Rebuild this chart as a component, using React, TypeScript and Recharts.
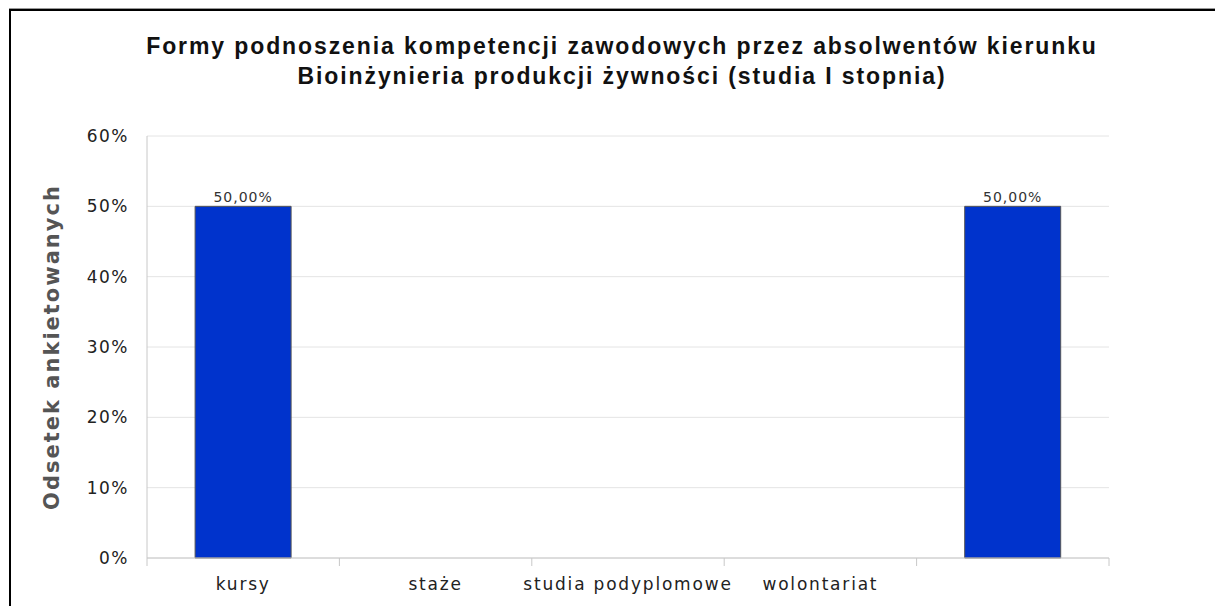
import { BarChart, Bar, XAxis, YAxis, CartesianGrid, LabelList, Label } from 'recharts';

const categories = ['kursy', 'staże', 'studia podyplomowe', 'wolontariat', ''];
const shares = [0.5, 0, 0, 0, 0.5];
const yTicks = [0, 0.1, 0.2, 0.3, 0.4, 0.5, 0.6];
const titleLines = [
  'Formy podnoszenia kompetencji zawodowych przez absolwentów kierunku',
  'Bioinżynieria produkcji żywności (studia I stopnia)',
];
const yLabel = 'Odsetek ankietowanych';

const data = categories.map((name, i) => ({ name, value: shares[i] }));

const pct = (v: number) => `${Math.round(v * 100)}%`;
const pct2 = (v: number) => (v ? `${(v * 100).toFixed(2).replace('.', ',')}%` : '');

const FONT = '"DejaVu Sans", Verdana, sans-serif';
const GRID = '#e4e4e4';
const AXIS = '#c8c8c8';

// category label at band centre, plus separator ticks at band edges
function CategoryTick(props: any) {
  const { x, y, payload, index, width, visibleTicksCount } = props;
  const band = width / visibleTicksCount;
  const left = x - band / 2;
  return (
    <g>
      <line x1={left} x2={left} y1={y - 8} y2={y} stroke={AXIS} />
      {index === visibleTicksCount - 1 && (
        <line x1={left + band} x2={left + band} y1={y - 8} y2={y} stroke={AXIS} />
      )}
      <text
        x={x}
        y={y + 24}
        textAnchor="middle"
        fontFamily={FONT}
        fontSize={17}
        letterSpacing={1.8}
        fill="#222"
      >
        {payload.value}
      </text>
    </g>
  );
}

export default function App() {
  return (
    <div style={{ position: 'absolute', left: 0, top: 0, width: 1215, height: 606, background: '#fff', overflow: 'hidden' }}>
      <div
        style={{
          position: 'absolute',
          left: 9,
          top: 9,
          width: 1300,
          height: 700,
          borderTop: '2px solid #000',
          borderLeft: '2px solid #000',
          boxShadow: '0 -1px 0 #999',
        }}
      />
      <div
        style={{
          position: 'absolute',
          left: 0,
          top: 31,
          width: 1244,
          textAlign: 'center',
          fontFamily: '"Liberation Sans", Arial, sans-serif',
          fontWeight: 'bold',
          fontSize: 23,
          letterSpacing: 1.9,
          lineHeight: '30px',
          color: '#111',
        }}
      >
        {titleLines.map((t) => (
          <div key={t}>{t}</div>
        ))}
      </div>
      <div style={{ position: 'absolute', left: 0, top: 0 }}>
        <BarChart
          width={1215}
          height={606}
          data={data}
          margin={{ top: 136, right: 106, bottom: 18, left: 0 }}
          barCategoryGap="25%"
        >
          <CartesianGrid vertical={false} stroke={GRID} />
          <XAxis
            dataKey="name"
            interval={0}
            height={30}
            axisLine={{ stroke: AXIS }}
            tickLine={false}
            tick={<CategoryTick />}
          />
          <YAxis
            width={147}
            domain={[0, 0.6]}
            ticks={yTicks}
            tickFormatter={pct}
            axisLine={{ stroke: AXIS }}
            tickLine={false}
            tickMargin={12}
            tick={{ fontFamily: FONT, fontSize: 17, fill: '#222', letterSpacing: 1.5 }}
          >
            <Label
              value={yLabel}
              angle={-90}
              position="insideLeft"
              offset={52}
              style={{ fontFamily: FONT, fontSize: 21, fontWeight: 'bold', fill: '#555', letterSpacing: 2, textAnchor: 'middle' }}
            />
          </YAxis>
          <YAxis yAxisId="edge" orientation="right" width={0} tick={false} tickLine={false} axisLine={{ stroke: AXIS }} />
          <Bar dataKey="value" fill="#0033cc" stroke="#555" strokeWidth={1} isAnimationActive={false}>
            <LabelList
              dataKey="value"
              position="top"
              offset={4}
              formatter={pct2 as any}
              style={{ fontFamily: FONT, fontSize: 14, fill: '#333', letterSpacing: 1 }}
            />
          </Bar>
        </BarChart>
      </div>
    </div>
  );
}
